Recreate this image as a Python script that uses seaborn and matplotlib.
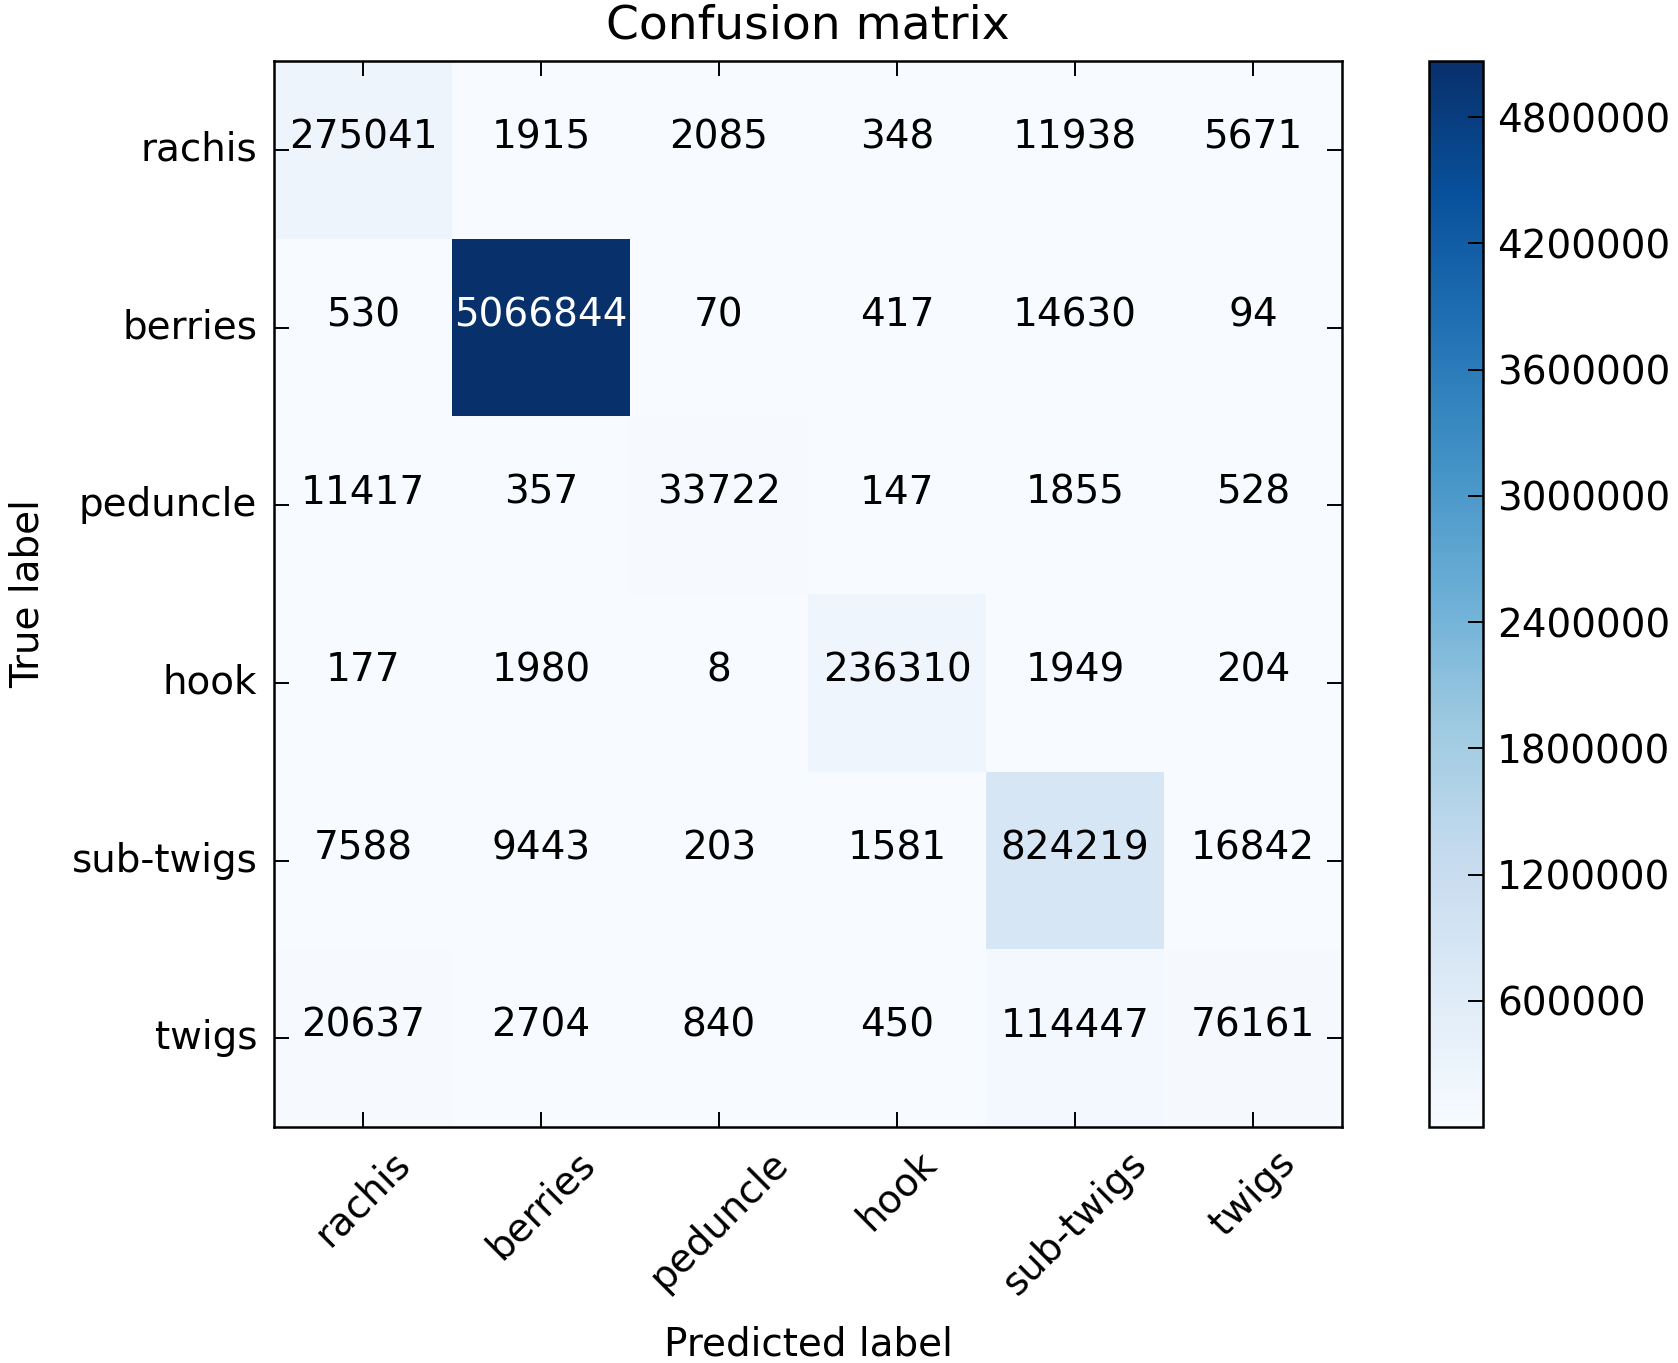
import numpy as np
import pandas as pd
import matplotlib
matplotlib.use('Agg')
import matplotlib.pyplot as plt
import seaborn as sns

# class names and confusion counts (rows = true, cols = predicted)
classes = ['rachis', 'berries', 'peduncle', 'hook', 'sub-twigs', 'twigs']
row_rachis = [275041, 1915, 2085, 348, 11938, 5671]
row_berries = [530, 5066844, 70, 417, 14630, 94]
row_peduncle = [11417, 357, 33722, 147, 1855, 528]
row_hook = [177, 1980, 8, 236310, 1949, 204]
row_subtwigs = [7588, 9443, 203, 1581, 824219, 16842]
row_twigs = [20637, 2704, 840, 450, 114447, 76161]
cbar_ticks = [600000, 1200000, 1800000, 2400000, 3000000, 3600000, 4200000, 4800000]

cm = pd.DataFrame([row_rachis, row_berries, row_peduncle, row_hook, row_subtwigs, row_twigs],
                  index=classes, columns=classes)

plt.rcParams['font.family'] = ['DejaVu Sans']

fig = plt.figure(figsize=(16.78, 13.63), dpi=100)
ax = fig.add_axes([274 / 1678, 1 - 1127 / 1363, (1342 - 274) / 1678, (1127 - 61) / 1363])
cax = fig.add_axes([1429 / 1678, 1 - 1127 / 1363, 54 / 1678, (1127 - 61) / 1363])

sns.heatmap(cm, annot=True, fmt='d', cmap='Blues', ax=ax, cbar_ax=cax,
            annot_kws={'fontsize': 28},
            cbar_kws={'ticks': cbar_ticks, 'format': '%d'})

# old-style text: pure black / white, sitting a bit above the cell centre
thresh = cm.values.max() / 2.0
for t in ax.texts:
    t.set_color('white' if int(t.get_text()) > thresh else 'black')
    x, y = t.get_position()
    t.set_position((x, y - 0.07))

# bring back the classic framed look
for sp in ax.spines.values():
    sp.set_visible(True)
    sp.set_linewidth(1.8)
    sp.set_color('black')
cbar = ax.collections[0].colorbar
cbar.outline.set_linewidth(1.8)
cbar.outline.set_edgecolor('black')

ax.tick_params(direction='in', length=11, width=1.4, top=True, right=True,
               bottom=True, left=True, labelsize=28, pad=12, colors='black')
ax.set_xticklabels(classes, rotation=45, ha='center')
ax.set_yticklabels(classes, rotation=0)
cax.tick_params(direction='in', length=11, width=1.4, labelsize=28, pad=10)

ax.set_title('Confusion matrix', fontsize=34, pad=16)
ax.set_xlabel('Predicted label', fontsize=28, labelpad=17)
ax.set_ylabel('True label', fontsize=28, labelpad=18)

fig.savefig('out.png', dpi=100)
